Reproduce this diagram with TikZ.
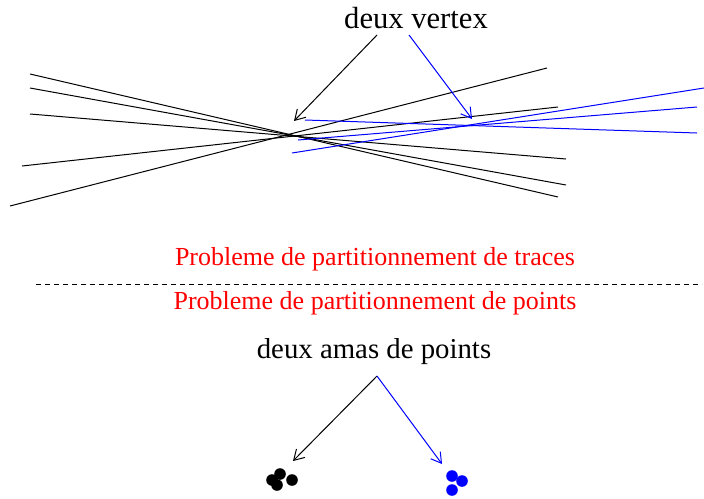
\documentclass[tikz,border=0pt]{standalone}
\usepackage{fontspec}
\setmainfont{Liberation Serif}
\usetikzlibrary{arrows.meta}
\begin{document}
\begin{tikzpicture}[x=0.5pt,y=-0.5pt,
  trace/.style={line width=0.5pt},
  fleche/.style={line width=0.5pt,-{Straight Barb[length=5pt,width=6pt]}},
  titre/.style={font=\fontsize{15.3}{18}\selectfont,inner sep=0pt},
  amasfont/.style={font=\fontsize{14.4}{17}\selectfont,inner sep=0pt},
  probleme/.style={red,font=\fontsize{13}{15}\selectfont,inner sep=0pt},
  point/.style={circle,fill,inner sep=0pt,minimum size=5.8pt}]
  \useasboundingbox (0,0) rectangle (704,498);
  % traces noires
  \coordinate (A1) at (30,74);  \coordinate (B1) at (558,197);
  \coordinate (A2) at (30,88);  \coordinate (B2) at (566,185);
  \coordinate (A3) at (30,114); \coordinate (B3) at (566,159);
  \coordinate (A4) at (22,166); \coordinate (B4) at (558,107);
  \coordinate (A5) at (10,206); \coordinate (B5) at (547,68);
  \draw[trace] (A1)--(B1);
  \draw[trace] (A2)--(B2);
  \draw[trace] (A3)--(B3);
  \draw[trace] (A4)--(B4);
  \draw[trace] (A5)--(B5);
  % traces bleues
  \coordinate (C1) at (305,120); \coordinate (D1) at (697,133);
  \coordinate (C2) at (298,140); \coordinate (D2) at (697,107);
  \coordinate (C3) at (292,153); \coordinate (D3) at (704,88);
  \draw[trace,blue] (C1)--(D1);
  \draw[trace,blue] (C2)--(D2);
  \draw[trace,blue] (C3)--(D3);
  % vertex
  \node[titre,anchor=base] (vertex) at (416,28) {deux vertex};
  \coordinate (vs1) at (377,35);
  \coordinate (vs2) at (409,35);
  \coordinate (V1) at (294,121);
  \coordinate (V2) at (472,119);
  \draw[fleche] (vs1)--(V1);
  \draw[fleche,blue] (vs2)--(V2);
  % separation
  \node[probleme,anchor=base] (traces) at (375,265) {Probleme de partitionnement de traces};
  \coordinate (L) at (36,284);
  \coordinate (R) at (702,284);
  \draw[line width=0.5pt,dash pattern=on 2.3pt off 2.2pt] (L)--(R);
  \node[probleme,anchor=base] (points) at (375,309) {Probleme de partitionnement de points};
  % amas
  \node[amasfont,anchor=base] (amas) at (374,358) {deux amas de points};
  \coordinate (as) at (377,376);
  \coordinate (P1) at (293,461);
  \coordinate (P2) at (442,464);
  \draw[fleche] (as)--(P1);
  \draw[fleche,blue] (as)--(P2);
  \node[point] (n1) at (280,474) {};
  \node[point] (n2) at (272,480) {};
  \node[point] (n3) at (277,485) {};
  \node[point] (n4) at (292,480) {};
  \node[point,blue] (b1) at (452,476) {};
  \node[point,blue] (b2) at (462,481) {};
  \node[point,blue] (b3) at (452,490) {};
\end{tikzpicture}
\end{document}
